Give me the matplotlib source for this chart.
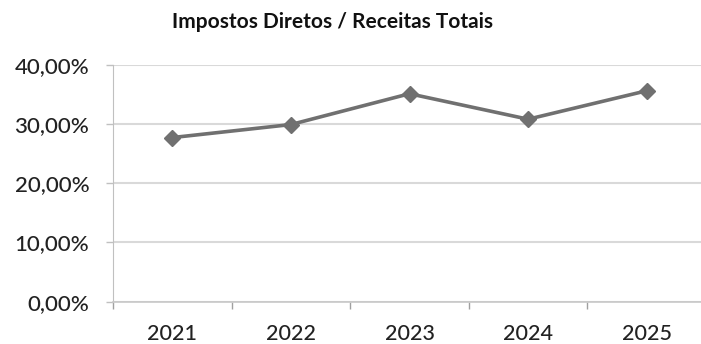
import matplotlib.pyplot as plt

plt.rcParams['font.family'] = ['Lato', 'DejaVu Sans']

# data
anos = ['2021', '2022', '2023', '2024', '2025']
percentagens = [27.7, 29.9, 35.1, 30.8, 35.6]
y_ticks = [0, 10, 20, 30, 40]
y_labels = ['0,00%', '10,00%', '20,00%', '30,00%', '40,00%']

fig = plt.figure(figsize=(7.01, 3.44), dpi=100)
ax = fig.add_axes([113/701, 42.3/344, 593/701, 237/344])

x = list(range(len(anos)))
ax.plot(x, percentagens, color='#707070', lw=2.6, marker='D', ms=8.5,
        mfc='#707070', mec='#707070', zorder=3)

ax.set_xlim(-0.5, len(anos) - 0.5)
ax.set_ylim(0, 40)
ax.set_yticks(y_ticks)
ax.set_yticklabels(y_labels, fontsize=16, fontweight='medium', color='#222222')
ax.set_xticks(x)
ax.set_xticklabels(anos, fontsize=15.5, fontweight='medium', color='#222222')
# category boundary ticks on the x axis
ax.set_xticks([i - 0.5 for i in range(len(anos) + 1)], minor=True)
ax.tick_params(axis='x', which='major', length=0, pad=16)
ax.tick_params(axis='x', which='minor', length=5, color='#a0a0a0', width=1)
ax.tick_params(axis='y', length=5, color='#c0c0c0', width=1, pad=12)

ax.grid(axis='y', color='#d9d9d9', lw=1.5)
ax.set_axisbelow(True)
for s in ['top', 'right']:
    ax.spines[s].set_visible(False)
ax.spines['left'].set_color('#c0c0c0')
ax.spines['bottom'].set_color('#c8c8c8')
ax.spines['bottom'].set_linewidth(1.2)

fig.text(333/701, 1 - 22/344, 'Impostos Diretos / Receitas Totais',
         ha='center', va='center', fontsize=15, fontweight='bold', color='#111111')

fig.savefig('out.png', dpi=100)
